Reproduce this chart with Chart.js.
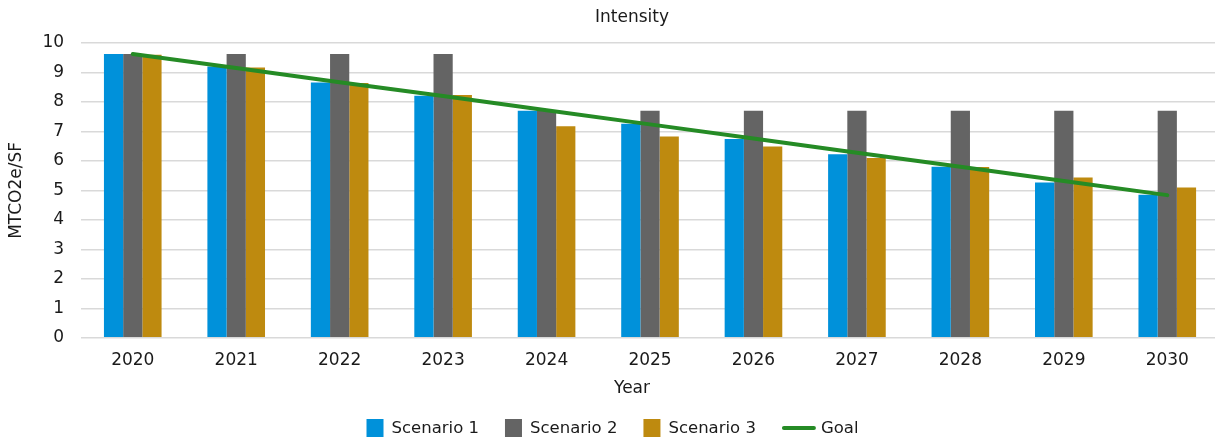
<!DOCTYPE html>
<html>
<head>
<meta charset="utf-8">
<script src="https://cdn.jsdelivr.net/npm/chart.js@4.4.1/dist/chart.umd.min.js"></script>
<style>
  html, body { margin: 0; padding: 0; background: #ffffff; overflow: hidden; width: 1215px; height: 443px; }
  #wrap { position: absolute; left: 0; top: 0; width: 1264px; height: 443px; }
</style>
</head>
<body>
<div id="wrap"><canvas id="c" width="1264" height="443"></canvas></div>
<script>
const years = ['2020', '2021', '2022', '2023', '2024', '2025', '2026', '2027', '2028', '2029', '2030'];
const scenario1 = [9.63, 9.20, 8.66, 8.21, 7.70, 7.26, 6.74, 6.23, 5.80, 5.27, 4.85];
const scenario2 = [9.63, 9.63, 9.63, 9.63, 7.70, 7.70, 7.70, 7.70, 7.70, 7.70, 7.70];
const scenario3 = [9.60, 9.17, 8.64, 8.24, 7.18, 6.83, 6.49, 6.10, 5.79, 5.44, 5.10];
const goal = [9.63, 9.15, 8.67, 8.20, 7.72, 7.24, 6.76, 6.28, 5.80, 5.32, 4.84];
const yTicks = [0, 1, 2, 3, 4, 5, 6, 7, 8, 9, 10];
const seriesNames = ['Scenario 1', 'Scenario 2', 'Scenario 3', 'Goal'];

const colors = { s1: '#0091DA', s2: '#646464', s3: '#BE8A0F', goal: '#258B25' };
const FONT = 'DejaVu Sans';
const textColor = '#1a1a1a';

// Custom legend drawn on the Chart.js canvas (squares for bars, a line for Goal)
const customLegend = {
  id: 'customLegend',
  afterDraw(chart) {
    const ctx = chart.ctx;
    const fontSize = 16.5;
    ctx.save();
    ctx.font = fontSize + 'px "' + FONT + '"';
    ctx.textBaseline = 'middle';
    ctx.textAlign = 'left';
    const ds = chart.data.datasets;
    const items = ds.map((d) => ({
      text: d.label,
      color: d.type === 'line' ? d.borderColor : d.backgroundColor,
      isLine: d.type === 'line',
      w: ctx.measureText(d.label).width
    }));
    const markW = it => it.isLine ? 34 : 17;
    const markGap = it => it.isLine ? 5 : 8;
    const itemGap = 26;
    let total = 0;
    items.forEach((it, i) => { total += markW(it) + markGap(it) + it.w + (i < items.length - 1 ? itemGap : 0); });
    const centerX = 612.5;
    const cy = 428;
    let x = centerX - total / 2;
    items.forEach((it) => {
      if (it.isLine) {
        ctx.strokeStyle = it.color;
        ctx.lineWidth = 4;
        ctx.lineCap = 'round';
        ctx.beginPath();
        ctx.moveTo(x + 2, cy);
        ctx.lineTo(x + markW(it) - 2, cy);
        ctx.stroke();
      } else {
        ctx.fillStyle = it.color;
        ctx.fillRect(x, cy - 9, 17, 18);
      }
      x += markW(it) + markGap(it);
      ctx.fillStyle = textColor;
      ctx.fillText(it.text, x, cy + 1);
      x += it.w + itemGap;
    });
    ctx.restore();
  }
};

const barCommon = { categoryPercentage: 0.557, barPercentage: 1.0, borderWidth: 0, order: 1 };

new Chart(document.getElementById('c'), {
  data: {
    labels: years,
    datasets: [
      Object.assign({ type: 'bar', label: seriesNames[0], data: scenario1, backgroundColor: colors.s1 }, barCommon),
      Object.assign({ type: 'bar', label: seriesNames[1], data: scenario2, backgroundColor: colors.s2 }, barCommon),
      Object.assign({ type: 'bar', label: seriesNames[2], data: scenario3, backgroundColor: colors.s3 }, barCommon),
      { type: 'line', label: seriesNames[3], data: goal, borderColor: colors.goal, backgroundColor: colors.goal,
        borderWidth: 4, pointRadius: 0, pointHoverRadius: 0, fill: false, tension: 0, order: 0, borderCapStyle: 'round' }
    ]
  },
  plugins: [customLegend],
  options: {
    responsive: false,
    animation: false,
    devicePixelRatio: 1,
    layout: { padding: { left: 0, right: 0, top: 0, bottom: 44 } },
    plugins: {
      title: {
        display: true, text: 'Intensity', color: textColor,
        font: { family: FONT, size: 17, weight: 'normal' },
        padding: { top: 7, bottom: 15.6 }
      },
      subtitle: {
        display: true, text: 'Year', position: 'bottom', color: textColor,
        font: { family: FONT, size: 17, weight: 'normal' },
        padding: { top: -5.6, bottom: 0 }
      },
      legend: { display: false },
      tooltip: { enabled: false }
    },
    scales: {
      x: {
        grid: { display: false, drawTicks: false },
        border: { display: false },
        ticks: { color: textColor, font: { family: FONT, size: 17 }, padding: 13 }
      },
      y: {
        min: 0, max: 10,
        afterBuildTicks: (axis) => { axis.ticks = yTicks.map(v => ({ value: v })); },
        grid: { color: '#d9d9d9', lineWidth: 1.5, drawTicks: false },
        border: { display: false },
        ticks: { color: textColor, font: { family: FONT, size: 17 }, padding: 17 },
        title: { display: true, text: 'MTCO2e/SF', color: textColor, font: { family: FONT, size: 17 }, padding: { top: 6, bottom: -1 } }
      },
      yRight: {
        position: 'right',
        display: true,
        min: 0, max: 10,
        grid: { display: false, drawTicks: false },
        border: { display: false },
        ticks: { display: false },
        afterFit: (axis) => { axis.width = 45; }
      }
    }
  }
});
</script>
</body>
</html>
